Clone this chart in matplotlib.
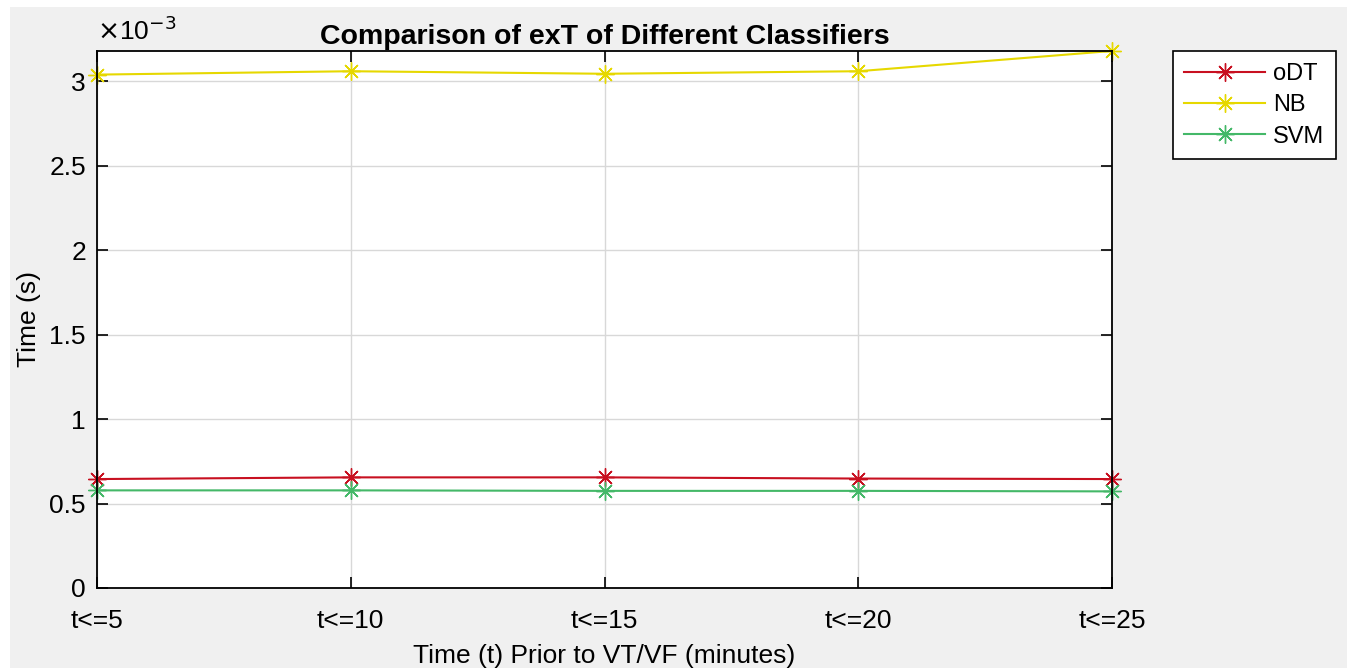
import matplotlib.pyplot as plt
from matplotlib.patches import Rectangle
from matplotlib.ticker import FuncFormatter, MultipleLocator

# data (seconds)
categories = ["t<=5", "t<=10", "t<=15", "t<=20", "t<=25"]
odt = [0.645e-3, 0.655e-3, 0.655e-3, 0.648e-3, 0.645e-3]
nb = [3.04e-3, 3.06e-3, 3.045e-3, 3.06e-3, 3.18e-3]
svm = [0.578e-3, 0.578e-3, 0.575e-3, 0.575e-3, 0.572e-3]

plt.rcParams['font.family'] = ['Liberation Sans', 'DejaVu Sans']

fig = plt.figure(figsize=(13.51, 6.68), dpi=100, facecolor='white')
# grey figure panel with a thin white margin on top/left/right
fig.patches.append(Rectangle((10 / 1351, 0), 1337 / 1351, 661 / 668, transform=fig.transFigure,
                             facecolor='#f0f0f0', edgecolor='none', zorder=-10))

ax = fig.add_axes([0.0718, 0.1198, 0.7513, 0.8039])
ax.set_facecolor('white')

x = range(1, len(categories) + 1)
star = (8, 2, 0)
ax.plot(x, odt, color='#c81020', marker=star, markersize=13, lw=1.5, label='oDT', clip_on=False)
ax.plot(x, nb, color='#e6d800', marker=star, markersize=13, lw=1.5, label='NB', clip_on=False)
ax.plot(x, svm, color='#44b868', marker=star, markersize=13, lw=1.5, label='SVM', clip_on=False)

ax.set_xlim(1, len(categories))
ax.set_ylim(0, max(nb))
ax.set_xticks(list(x))
ax.set_xticklabels(categories)
ax.yaxis.set_major_locator(MultipleLocator(0.5e-3))
ax.yaxis.set_major_formatter(FuncFormatter(lambda v, p: f"{v * 1e3:g}"))
ax.tick_params(direction='in', length=8, width=1.2, labelsize=19, top=True, right=True)
ax.tick_params(axis='x', pad=15)
ax.tick_params(axis='y', pad=8)
ax.grid(True, color='#d8d8d8', lw=1)
for s in ax.spines.values():
    s.set_linewidth(1.3)

ax.set_title("Comparison of exT of Different Classifiers", fontsize=20.5, fontweight='bold', pad=5)
ax.set_xlabel("Time (t) Prior to VT/VF (minutes)", fontsize=19, labelpad=8)
ax.set_ylabel("Time (s)", fontsize=19, labelpad=6)
ax.text(0.0, 1.012, r"$\times$10$^{-3}$", transform=ax.transAxes, fontsize=19, va='bottom', ha='left')

leg = fig.legend(loc='upper left', bbox_to_anchor=(0.868, 0.9237), fontsize=17, fancybox=False,
                 edgecolor='black', framealpha=1, handlelength=3.4, handletextpad=0.35,
                 borderpad=0.5, borderaxespad=0, labelspacing=0.4)
leg.get_frame().set_linewidth(1.2)

fig.savefig("out.png", dpi=100, facecolor=fig.get_facecolor())
